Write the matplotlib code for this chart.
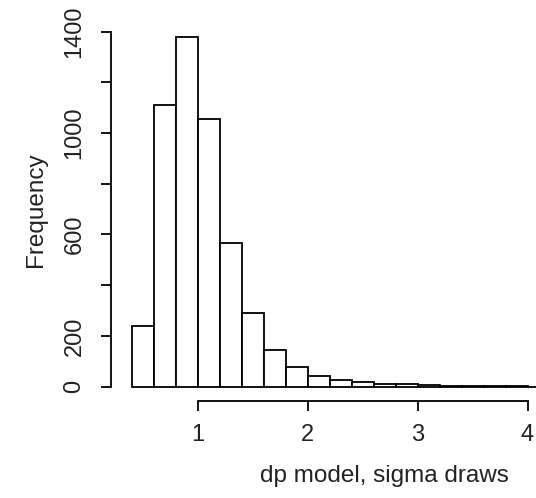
import matplotlib
matplotlib.use("Agg")
import matplotlib.pyplot as plt

# Histogram data (bin edges and counts)
bin_edges = [0.4, 0.6, 0.8, 1.0, 1.2, 1.4, 1.6, 1.8, 2.0, 2.2, 2.4, 2.6, 2.8,
             3.0, 3.2, 3.4, 3.6, 3.8, 4.0, 4.2, 4.4, 4.6, 4.8, 5.0, 5.2]
counts = [237, 1112, 1377, 1054, 565, 291, 144, 79, 40, 26, 16, 12, 9,
          6, 4, 3, 1, 1, 0, 1, 0, 0, 0, 1]
x_ticks = [1, 2, 3, 4]
x_tick_labels = ["1", "2", "3", "4"]
y_ticks = [0, 200, 400, 600, 800, 1000, 1200, 1400]
y_tick_labels = ["0", "200", "", "600", "", "1000", "", "1400"]
x_label = "dp model, sigma draws"
y_label = "Frequency"

plt.rcParams['font.family'] = ['Liberation Sans', 'DejaVu Sans']

W, H = 536, 498
fig = plt.figure(figsize=(W / 100, H / 100), dpi=100)
fig.patch.set_facecolor('white')

# axes rectangle in pixels (left, right, top, bottom)
px_left, px_right, px_top, px_bottom = 110.7, 680.6, 23.4, 400.5
ax = fig.add_axes([px_left / W, (H - px_bottom) / H,
                   (px_right - px_left) / W, (px_bottom - px_top) / H])

widths = [bin_edges[i + 1] - bin_edges[i] for i in range(len(counts))]
ax.bar(bin_edges[:-1], counts, width=widths, align='edge',
       facecolor='white', edgecolor='black', linewidth=1.3)

ax.set_xlim(0.2088, 5.392)
ax.set_ylim(-55, 1432)

for s in ['top', 'right']:
    ax.spines[s].set_visible(False)
ax.spines['left'].set_bounds(0, 1400)
ax.spines['bottom'].set_bounds(1, 4)
ax.spines['left'].set_linewidth(1.3)
ax.spines['bottom'].set_linewidth(1.3)

text_color = '#222222'
ax.set_xticks(x_ticks)
ax.set_xticklabels(x_tick_labels, fontsize=17, color=text_color)
ax.set_yticks(y_ticks)
ax.set_yticklabels(y_tick_labels, fontsize=17, rotation=90, va='center',
                   color=text_color)
ax.tick_params(axis='x', length=7.2, width=1.3, pad=10, color='black')
ax.tick_params(axis='y', length=7.2, width=1.3, pad=11, color='black')

fig.text(384 / W, 1 - 476 / H, x_label, fontsize=17.5, ha='center',
         va='center', color=text_color)
fig.text(36 / W, 1 - 210 / H, y_label, fontsize=17.5, ha='center',
         va='center', rotation=90, color=text_color)

fig.savefig("out.png", dpi=100, facecolor='white')
